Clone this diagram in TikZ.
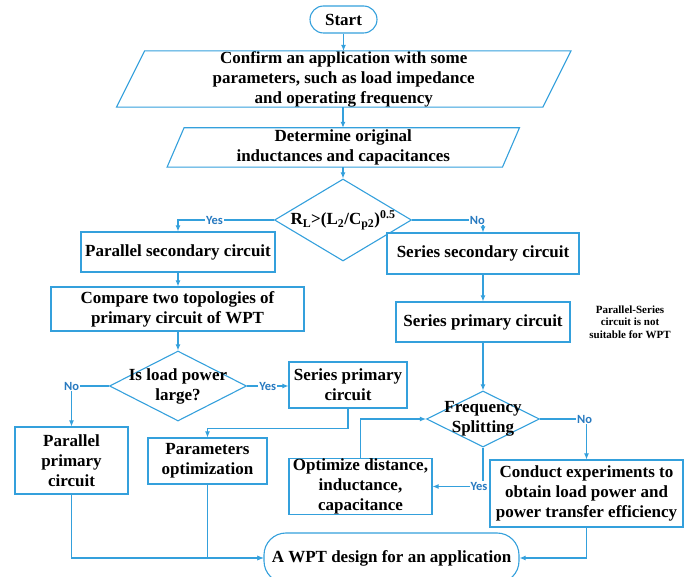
\documentclass[tikz,border=0pt]{standalone}
\usepackage{fontspec}
\setmainfont{Liberation Serif}
\newfontfamily\labfam{Carlito}
\usetikzlibrary{arrows.meta,shapes.geometric}
\definecolor{lc}{RGB}{52,160,220}
\definecolor{labc}{RGB}{40,122,192}
\newcommand{\mainsz}{\fontsize{17}{20}\selectfont\bfseries}
\newcommand{\notesz}{\fontsize{11}{12.5}\selectfont\bfseries}
\newcommand{\labsz}{\labfam\fontsize{12.5}{14}\selectfont\bfseries}
\begin{document}
\begin{tikzpicture}[x=1pt,y=-1pt,
  box/.style={draw=lc, line width=1.1pt, fill=white, align=center, font=\mainsz, inner sep=0pt},
  txt/.style={align=center, font=\mainsz, inner sep=0pt},
  dia/.style={draw=lc, line width=1.1pt, diamond, inner sep=0pt},
  arr/.style={draw=lc, line width=1.1pt, -{Latex[length=6pt,width=5pt]}},
  lab/.style={font=\labsz, text=labc, fill=white, inner sep=1pt}]
\useasboundingbox (0,0) rectangle (689,577);
\clip (0,0) rectangle (689,577);

% nodes
\node[box, rounded corners=13.5pt, minimum width=67pt, minimum height=27pt] (start) at (343.5,19.5) {Start};

\node[txt, minimum width=426pt, minimum height=54pt] (p1) at (343.75,79) {Confirm an application with some\\parameters, such as load impedance\\and operating frequency};
\draw[draw=lc, line width=1.1pt] ([xshift=14pt]p1.north west) -- ([xshift=14pt]p1.north east) -- ([xshift=-14pt]p1.south east) -- ([xshift=-14pt]p1.south west) -- cycle;

\node[txt, minimum width=335pt, minimum height=39pt] (p2) at (343.25,147.5) {Determine original\\inductances and capacitances};
\draw[draw=lc, line width=1.1pt] ([xshift=8.5pt]p2.north west) -- ([xshift=8.5pt]p2.north east) -- ([xshift=-8.5pt]p2.south east) -- ([xshift=-8.5pt]p2.south west) -- cycle;

\node[dia, minimum width=137pt, minimum height=82pt,
  label={[txt]center:{R\textsubscript{L}>(L\textsubscript{2}/C\textsubscript{p2})\textsuperscript{0.5}}}] (d1) at (343,220) {};

\node[box, minimum width=194pt, minimum height=40pt] (psec) at (178,252) {Parallel secondary circuit};
\node[box, minimum width=192pt, minimum height=41pt] (ssec) at (483,253.5) {Series secondary circuit};
\node[box, minimum width=253pt, minimum height=44pt] (cmp) at (177.5,309) {Compare two topologies of\\primary circuit of WPT};
\node[box, minimum width=174pt, minimum height=40pt] (spri) at (483,322) {Series primary circuit};
\node[align=center, font=\notesz, inner sep=0pt] (note) at (630,322) {Parallel-Series\\circuit is not\\suitable for WPT};

\node[dia, minimum width=137pt, minimum height=70pt,
  label={[txt]center:{Is load power\\large?}}] (d2) at (178,386) {};
\node[box, minimum width=118pt, minimum height=46pt] (spl) at (348,385) {Series primary\\circuit};
\node[box, minimum width=113pt, minimum height=67pt] (ppri) at (71.5,460.5) {Parallel\\primary\\circuit};
\node[box, minimum width=119pt, minimum height=46pt] (popt) at (207.5,461) {Parameters\\optimization};

\node[dia, minimum width=113pt, minimum height=56pt,
  label={[txt]center:{Frequency\\Splitting}}] (d3) at (483,419) {};
\node[box, minimum width=143pt, minimum height=53pt] (opt) at (360.5,486.5) {Optimize distance,\\inductance,\\capacitance};
\node[box, minimum width=193pt, minimum height=67pt] (cond) at (586.5,493.5) {Conduct experiments to\\obtain load power and\\power transfer efficiency};
\node[box, rounded corners=22pt, minimum width=255pt, minimum height=50pt] (fin) at (391.5,558) {A WPT design for an application};

% connectors
\draw[arr] (start.south) -- (start.south |- p1.north);
\draw[arr] (p1.south -| d1.north) -- (p2.north -| d1.north);
\draw[arr] (p2.south -| d1.north) -- (d1.north);
\draw[arr] (d1.west) -| node[lab, pos=0.31] {Yes} (psec.north);
\draw[arr] (d1.east) -| node[lab, pos=0.46] {No} (ssec.north);
\draw[arr] (psec.south) -- (psec.south |- cmp.north);
\draw[arr] (ssec.south) -- (ssec.south |- spri.north);
\draw[arr] (cmp.south -| d2.north) -- (d2.north);
\draw[arr] (d2.east) -- node[lab] {Yes} (d2.east -| spl.west);
\draw[arr] (d2.west) -| node[lab, pos=0.5] {No} (ppri.north);
\draw[arr] (spl.south) -- ++(0,20) -| (popt.north);
\draw[arr] (spri.south) -- (d3.north);
\draw[arr] (opt.north) |- (d3.west);
\draw[arr] (d3.south) |- node[lab, pos=0.5, xshift=-4pt] {Yes} (opt.east);
\draw[arr] (d3.east) -| node[lab, pos=0.5, xshift=-2pt] {No} (cond.north);
\draw[arr] (ppri.south) |- (fin.west);
\draw[arr] (popt.south) |- (fin.west);
\draw[arr] (cond.south) |- (fin.east);
\end{tikzpicture}
\end{document}
